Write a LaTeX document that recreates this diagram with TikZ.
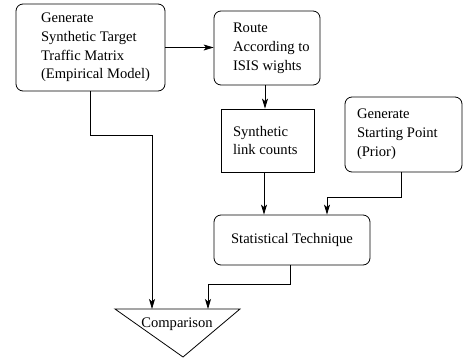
\documentclass[tikz,border=0pt]{standalone}
\usepackage{fontspec}
\setmainfont{Liberation Serif}
\usetikzlibrary{arrows.meta}
\begin{document}
\begin{tikzpicture}[x=1pt,y=-1pt,
  line width=0.8pt,
  rbox/.style={draw, rounded corners=7pt, inner sep=0pt},
  sbox/.style={draw, inner sep=0pt},
  txt/.style={inner sep=0pt, align=left, font=\fontsize{14.6}{18.8}\selectfont},
  arr/.style={-{Stealth[length=10pt,width=6pt,inset=2.5pt]}}
]
\useasboundingbox (0,0) rectangle (463,362);
% boxes
\node[rbox, minimum width=149pt, minimum height=87pt] (b1) at (90.5,47.5) {};
\node[txt, anchor=west] (t1) at ([xshift=25pt]b1.west) {Generate\\Synthetic Target\\Traffic Matrix\\(Empirical Model)};
\node[rbox, minimum width=106pt, minimum height=74pt] (b2) at (267,48) {};
\node[txt, anchor=west] (t2) at ([xshift=19pt]b2.west) {Route\\According to\\ISIS wights};
\node[sbox, minimum width=93pt, minimum height=63pt] (b3) at (267.5,140.5) {};
\node[txt, anchor=west] (t3) at ([xshift=12pt]b3.west) {Synthetic\\link counts};
\node[rbox, minimum width=117pt, minimum height=75pt] (b4) at (403.5,134.5) {};
\node[txt, anchor=west] (t4) at ([xshift=12pt]b4.west) {Generate\\Starting Point\\(Prior)};
\node[rbox, minimum width=156pt, minimum height=50pt] (st) at (292,240) {};
\node[txt] (tst) at (st.center) {Statistical Technique};
% triangle
\coordinate (tl) at (115,309);
\coordinate (tr) at (240,309);
\coordinate (ta) at (183,357);
\draw (tl) -- (tr) -- (ta) -- cycle;
\node[txt] (cmp) at (177,324) {Comparison};
\coordinate (in1) at (152,309);
\coordinate (in2) at (208,309);
% connectors
\draw[arr] (b1.east) -- (b1.east -| b2.west);
\draw[arr] ([xshift=-2pt]b2.south) -- ([xshift=-2pt]b2.south |- b3.north);
\draw[arr] ([xshift=-3.5pt]b3.south) -- ([xshift=-3.5pt]b3.south |- st.north);
\draw[arr] ([xshift=-2pt]b4.south) |- (327,197) -- (327,197 |- st.north);
\draw[arr] (b1.south) |- (152,135) -- (in1);
\draw[arr] ([xshift=-2pt]st.south) |- (208,284) -- (in2);
\end{tikzpicture}
\end{document}
